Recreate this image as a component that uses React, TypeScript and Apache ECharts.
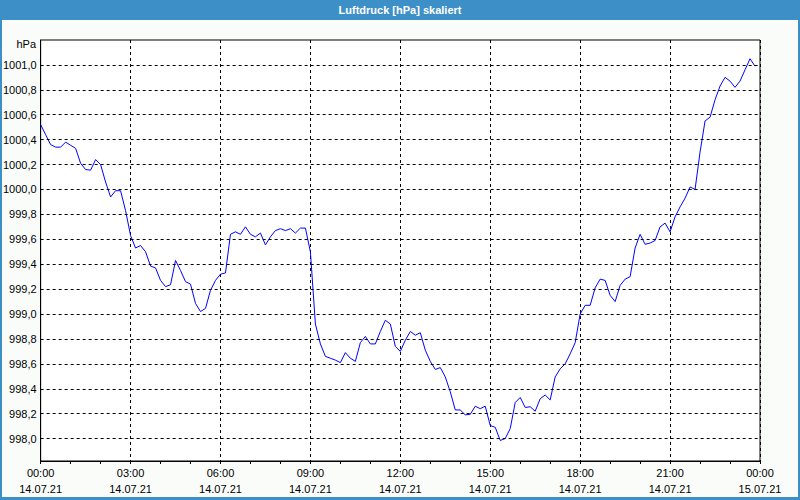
import React, { useEffect, useRef } from "react";
import * as echarts from "echarts";

// Pressure readings every 10 minutes from 14.07.21 00:00 (hPa)
const pressure: number[] = [
  1000.52, 1000.44, 1000.36, 1000.34, 1000.34, 1000.38, 1000.355, 1000.33, 1000.21, 1000.16,
  1000.155, 1000.24, 1000.2, 1000.06, 999.94, 999.99, 999.99, 999.83, 999.63, 999.53,
  999.55, 999.5, 999.385, 999.37, 999.27, 999.22, 999.235, 999.43, 999.35, 999.26,
  999.24, 999.085, 999.02, 999.045, 999.19, 999.27, 999.32, 999.33, 999.64, 999.66,
  999.64, 999.7, 999.64, 999.62, 999.65, 999.555, 999.62, 999.67, 999.685, 999.67,
  999.685, 999.65, 999.69, 999.69, 999.5, 998.92, 998.76, 998.66, 998.645, 998.63,
  998.61, 998.69, 998.645, 998.62, 998.77, 998.82, 998.76, 998.76, 998.86, 998.95,
  998.92, 998.74, 998.7, 998.79, 998.86, 998.83, 998.85, 998.71, 998.62, 998.555,
  998.57, 998.495, 998.375, 998.23, 998.23, 998.19, 998.195, 998.26, 998.24, 998.26,
  998.105, 998.09, 997.985, 998.0, 998.08, 998.29, 998.33, 998.25, 998.255, 998.22,
  998.32, 998.35, 998.31, 998.495, 998.56, 998.6, 998.68, 998.77, 999.0, 999.07,
  999.07, 999.21, 999.28, 999.27, 999.15, 999.1, 999.23, 999.28, 999.3, 999.53,
  999.64, 999.56, 999.57, 999.59, 999.7, 999.73, 999.66, 999.78, 999.86, 999.93,
  1000.02, 1000.0, 1000.3, 1000.55, 1000.58, 1000.72, 1000.83, 1000.9, 1000.87, 1000.82,
  1000.87, 1000.96, 1001.05, 1000.99,
];
const stepMinutes = 10;
const yTicks: number[] = [998.0, 998.2, 998.4, 998.6, 998.8, 999.0, 999.2, 999.4, 999.6, 999.8, 1000.0, 1000.2, 1000.4, 1000.6, 1000.8, 1001.0];
const xTickHours: number[] = [0, 3, 6, 9, 12, 15, 18, 21, 24];
const dayLabels: string[] = ["14.07.21", "15.07.21"];
const title = "Luftdruck [hPa] skaliert";
const unit = "hPa";

const FONT = "'Liberation Sans Narrow', 'Liberation Sans', Arial, sans-serif";
const FRAME = "#3d8fc7";

export default function App() {
  const ref = useRef<HTMLDivElement>(null);
  useEffect(() => {
    if (!ref.current) return;
    const chart = echarts.init(ref.current, null, { renderer: "svg" });
    const data = pressure.map((v, i) => [(i * stepMinutes) / 60, v]);
    chart.setOption({
      animation: false,
      backgroundColor: "#fafcfa",
      textStyle: { fontFamily: FONT },
      grid: {
        left: 40,
        top: 40,
        right: 40,
        bottom: 39,
        show: true,
        borderColor: "#000",
        borderWidth: 1,
        backgroundColor: "#ffffff",
        containLabel: false,
      },
      graphic: [
        { type: "rect", shape: { x: 0, y: 0, width: 800, height: 20 }, style: { fill: FRAME }, silent: true },
        { type: "rect", shape: { x: 0, y: 0, width: 2, height: 500 }, style: { fill: FRAME }, silent: true },
        { type: "rect", shape: { x: 798, y: 0, width: 2, height: 500 }, style: { fill: FRAME }, silent: true },
        { type: "rect", shape: { x: 0, y: 497, width: 800, height: 3 }, style: { fill: FRAME }, silent: true },
        {
          type: "text",
          x: 400,
          y: 10,
          style: {
            text: title,
            fill: "#ffffff",
            font: `bold 11px ${FONT}`,
            align: "center",
            verticalAlign: "middle",
          },
          silent: true,
        },
        {
          type: "text",
          x: 36,
          y: 44,
          style: {
            text: unit,
            fill: "#000",
            font: `11px ${FONT}`,
            align: "right",
            verticalAlign: "middle",
          },
          silent: true,
        },
      ],
      xAxis: {
        type: "value",
        min: 0,
        max: 24,
        interval: 3,
        axisLine: { show: true, lineStyle: { color: "#000", width: 1 } },
        axisTick: { show: true, length: 3, lineStyle: { color: "#000" } },
        minorTick: { show: true, splitNumber: 3, length: 3, lineStyle: { color: "#000" } },
        splitLine: { show: true, lineStyle: { color: "#000", type: [3, 3], width: 1 } },
        axisLabel: {
          color: "#000",
          fontSize: 11,
          fontFamily: FONT,
          margin: 4,
          lineHeight: 16,
          customValues: xTickHours,
          formatter: (v: number) => {
            const h = Math.round(v) % 24;
            const day = v >= 24 ? dayLabels[1] : dayLabels[0];
            return `${String(h).padStart(2, "0")}:00\n${day}`;
          },
        },
      },
      yAxis: {
        type: "value",
        min: 997.82,
        max: 1001.2,
        axisLine: { show: true, lineStyle: { color: "#000", width: 1 } },
        axisTick: { show: false, customValues: yTicks },
        splitLine: { show: false },
        axisLabel: {
          color: "#000",
          fontSize: 11,
          fontFamily: FONT,
          margin: 4,
          customValues: yTicks,
          formatter: (v: number) => v.toFixed(1).replace(".", ","),
        },
      },
      series: [
        {
          type: "line",
          data,
          symbol: "none",
          lineStyle: { color: "#0000ff", width: 1 },
          markLine: {
            silent: true,
            symbol: "none",
            label: { show: false },
            lineStyle: { color: "#000", type: [3, 3], width: 1 },
            data: yTicks.map((t) => ({ yAxis: t })),
          },
          z: 3,
        },
      ],
    });
    return () => chart.dispose();
  }, []);
  return (
    <div
      ref={ref}
      style={{ position: "fixed", left: 0, top: 0, width: 800, height: 500 }}
    />
  );
}
